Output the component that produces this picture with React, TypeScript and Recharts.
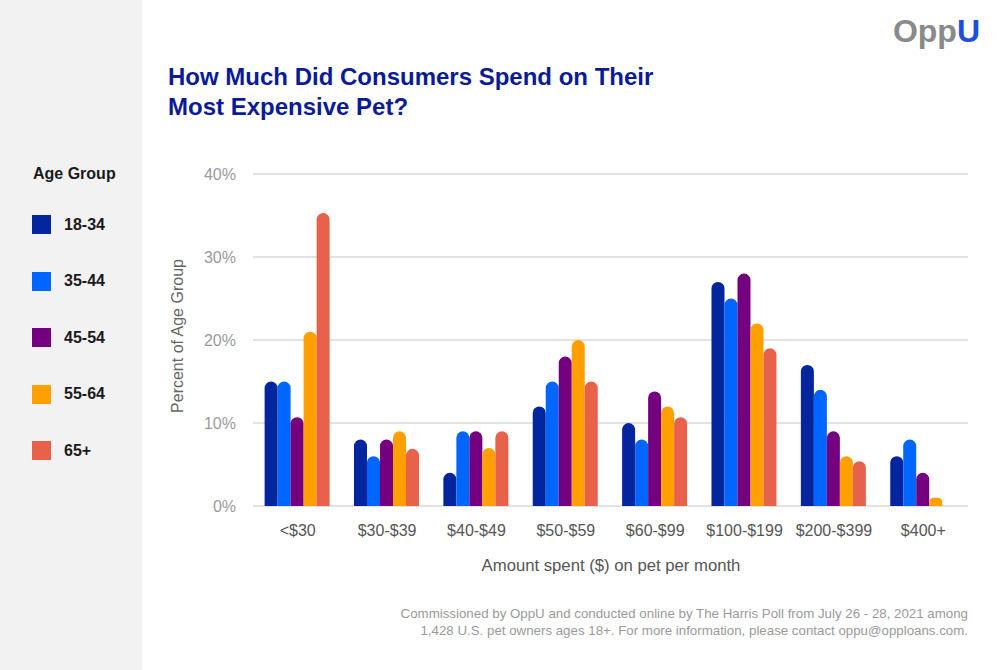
import React from 'react';
import { BarChart, Bar, XAxis, YAxis, CartesianGrid } from 'recharts';

const categories = ['<$30', '$30-$39', '$40-$49', '$50-$59', '$60-$99', '$100-$199', '$200-$399', '$400+'];
const age18to34 = [15, 8, 4, 12, 10, 27, 17, 6];
const age35to44 = [15, 6, 9, 15, 8, 25, 14, 8];
const age45to54 = [10.7, 8, 9, 18, 13.8, 28, 9, 4];
const age55to64 = [21, 9, 7, 20, 12, 22, 6, 1];
const age65plus = [35.3, 6.9, 9, 15, 10.7, 19, 5.4, 0];
const yTicks = [0, 10, 20, 30, 40];

const SERIES = [
  { key: 'a1834', label: '18-34', color: '#03259e', values: age18to34 },
  { key: 'a3544', label: '35-44', color: '#0066ff', values: age35to44 },
  { key: 'a4554', label: '45-54', color: '#74007f', values: age45to54 },
  { key: 'a5564', label: '55-64', color: '#ff9f00', values: age55to64 },
  { key: 'a65', label: '65+', color: '#e8614b', values: age65plus },
];

const data = categories.map((c, i) => {
  const row: Record<string, string | number> = { name: c };
  SERIES.forEach((s) => {
    row[s.key] = s.values[i];
  });
  return row;
});

const FONT = '"Liberation Sans", Arial, sans-serif';

export default function App() {
  return (
    <div
      style={{
        position: 'absolute',
        top: 0,
        left: 0,
        width: 1000,
        height: 670,
        background: '#ffffff',
        fontFamily: FONT,
        overflow: 'hidden',
      }}
    >
      {/* left legend panel */}
      <div style={{ position: 'absolute', left: 0, top: 0, width: 142, height: 670, background: '#f2f2f2' }} />
      <div
        style={{ position: 'absolute', left: 33, top: 164, fontSize: 16, fontWeight: 'bold', color: '#1a1a1a', lineHeight: '20px' }}
      >
        Age Group
      </div>
      {SERIES.map((s, i) => (
        <div
          key={s.key}
          style={{ position: 'absolute', left: 32, top: 215 + i * 56.5, height: 19, display: 'flex', alignItems: 'center' }}
        >
          <div style={{ width: 19, height: 19, background: s.color }} />
          <span style={{ marginLeft: 13, fontSize: 16, fontWeight: 'bold', color: '#1a1a1a' }}>{s.label}</span>
        </div>
      ))}

      {/* logo */}
      <div style={{ position: 'absolute', right: 20, top: 13, fontSize: 32, fontWeight: 'bold', lineHeight: '36px' }}>
        <span style={{ color: '#8a8a8a' }}>Opp</span>
        <span style={{ color: '#1a4fe0' }}>U</span>
      </div>

      {/* title */}
      <div
        style={{
          position: 'absolute',
          left: 168,
          top: 62,
          fontSize: 24,
          fontWeight: 'bold',
          color: '#0b1b98',
          lineHeight: '30px',
        }}
      >
        How Much Did Consumers Spend on Their
        <br />
        Most Expensive Pet?
      </div>

      <div style={{ position: 'absolute', left: 0, top: 0 }}>
        <BarChart
          width={1000}
          height={670}
          data={data}
          margin={{ top: 174, right: 32, bottom: 134, left: 193 }}
          barCategoryGap="13%"
          barGap={0}
        >
          <CartesianGrid vertical={false} stroke="#d9d9d9" strokeWidth={1.5} />
          <XAxis
            dataKey="name"
            height={30}
            axisLine={false}
            tickLine={false}
            tickMargin={13}
            interval={0}
            tick={{ fontSize: 16, fill: '#555555', fontFamily: FONT }}
          />
          <YAxis
            width={60}
            domain={[0, 40]}
            ticks={yTicks}
            axisLine={false}
            tickLine={false}
            tickMargin={11}
            tickFormatter={(v: number) => `${v}%`}
            tick={{ fontSize: 16, fill: '#9a9a9a', fontFamily: FONT }}
          />
          {SERIES.map((s) => (
            <Bar
              key={s.key}
              dataKey={s.key}
              name={s.label}
              fill={s.color}
              radius={[7, 7, 0, 0]}
              isAnimationActive={false}
            />
          ))}
        </BarChart>
      </div>

      {/* axis titles */}
      <div
        style={{
          position: 'absolute',
          left: 178,
          top: 336,
          transform: 'translate(-50%, -50%) rotate(-90deg)',
          whiteSpace: 'nowrap',
          fontSize: 16,
          color: '#666666',
        }}
      >
        Percent of Age Group
      </div>
      <div
        style={{
          position: 'absolute',
          left: 611,
          top: 566,
          transform: 'translate(-50%, -50%)',
          whiteSpace: 'nowrap',
          fontSize: 16.7,
          color: '#555555',
        }}
      >
        Amount spent ($) on pet per month
      </div>

      {/* footer */}
      <div
        style={{
          position: 'absolute',
          right: 32,
          top: 605,
          textAlign: 'right',
          fontSize: 13.3,
          lineHeight: '17px',
          color: '#9a9a9a',
        }}
      >
        Commissioned by OppU and conducted online by The Harris Poll from July 26 - 28, 2021 among
        <br />
        1,428 U.S. pet owners ages 18+. For more information, please contact oppu@opploans.com.
      </div>
    </div>
  );
}
